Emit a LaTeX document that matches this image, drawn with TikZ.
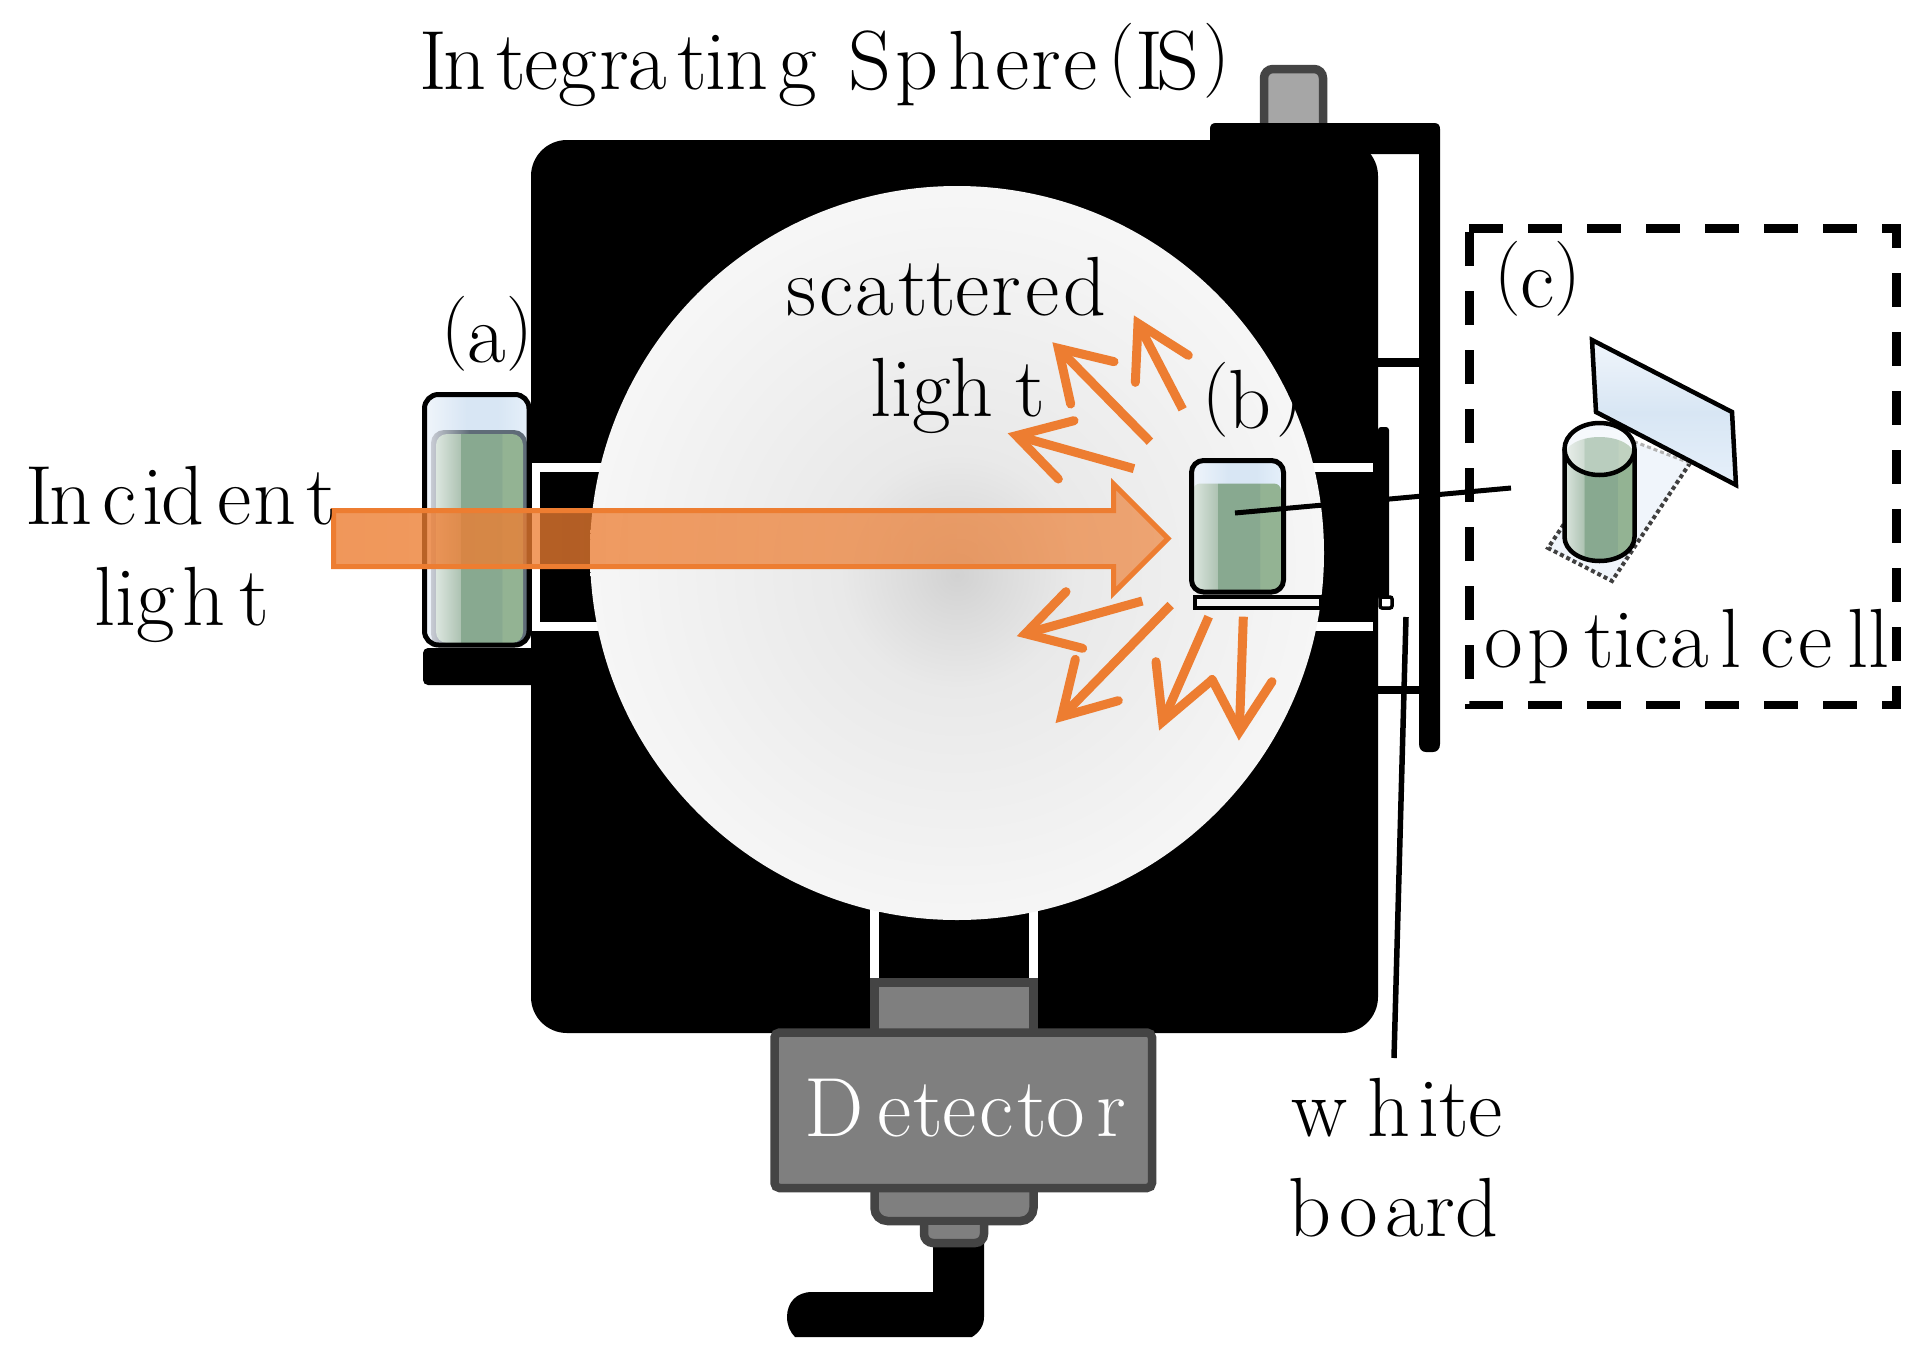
\documentclass[tikz,border=0pt]{standalone}
\usepackage{fontspec}
\usetikzlibrary{fadings}
\definecolor{orangeA}{HTML}{ED7D31}
\definecolor{detDark}{HTML}{444444}
\definecolor{detFill}{HTML}{7F7F7F}
\definecolor{liq0}{HTML}{DCE6DF}
\definecolor{liqA}{HTML}{AEC3B3}
\definecolor{liqB}{HTML}{88A990}
\definecolor{liqC}{HTML}{93B393}
\definecolor{glA}{HTML}{F0F5FB}
\definecolor{glB}{HTML}{D8E6F4}
\definecolor{glC}{HTML}{E6F0FA}
\definecolor{rimA}{HTML}{C8CCD4}
\definecolor{rimB}{HTML}{5F6C78}
\definecolor{sphA}{HTML}{D2D2D2}
\definecolor{sphB}{HTML}{E9E9E9}
\definecolor{sphC}{HTML}{F6F6F6}
\pgfdeclarehorizontalshading{liquid}{100bp}{
 color(0bp)=(liq0);
 color(25bp)=(liq0);
 color(38.9bp)=(liqA);color(39bp)=(liqB);color(62.9bp)=(liqB);color(63bp)=(liqC);color(75bp)=(liqC);color(100bp)=(liqC)}
\pgfdeclarehorizontalshading{glass}{100bp}{
 color(0bp)=(glA);color(25bp)=(glA);color(45bp)=(glB);color(60bp)=(glB);color(75bp)=(glC);color(100bp)=(glC)}
\pgfdeclarehorizontalshading{rimgray}{100bp}{
 color(0bp)=(rimA);color(25bp)=(rimA);color(45bp)=(rimB);color(75bp)=(rimB);color(100bp)=(rimB)}
\pgfdeclareverticalshading{plate}{100bp}{
 color(0bp)=(glC);color(25bp)=(glC);color(50bp)=(glB);color(75bp)=(glA);color(100bp)=(glA)}
\pgfdeclareradialshading{sphere}{\pgfpoint{0bp}{-1.5bp}}{
 color(0bp)=(sphA);color(3bp)=(sphA!60!sphB);color(8bp)=(sphB);color(25bp)=(sphC);color(50bp)=(sphC)}
\tikzfading[name=beamfade,left color=transparent!20,right color=transparent!35]
\tikzset{
 lbl/.style={anchor=base west,inner sep=0pt,font=\fontsize{84}{90}\selectfont},
 detbox/.style={draw=detDark,line width=8.5pt,fill=detFill,rounded corners=5pt},
 scat/.style={draw=orangeA,line width=9pt,line cap=round,line join=miter,miter limit=20},
 shaft/.style={draw=orangeA,line width=9pt},
 blackline/.style={draw=black,line width=5pt},
}
\newcommand\scatarrow[4]{%
 \draw[shaft] #1 -- #2;
 \draw[scat] #3 -- #2 -- #4;}
\newcommand\kk[1]{\kern#1pt\relax}
\newcommand\lp{{\fontsize{75}{80}\selectfont\raisebox{10pt}{(}}}
\newcommand\rp{{\fontsize{75}{80}\selectfont\raisebox{10pt}{)}}}
\begin{document}
\begin{tikzpicture}[x=1pt,y=-1pt]
\useasboundingbox (0,0) rectangle (1923,1363);
\fill[white] (0,0) rectangle (1923,1363);
% body
\fill[black,rounded corners=36pt] (531,140) rectangle (1378,1033);
% support bar
\fill[black] (1210,154) -- (1210,129) .. controls (1210,125) and (1212,123) .. (1216,123) -- (1434,123) .. controls (1438,123) and (1440,125) .. (1440,129) -- (1440,744) .. controls (1440,749) and (1437,752) .. (1433,752) -- (1426,752) .. controls (1422,752) and (1419,749) .. (1419,744) -- (1419,154) -- cycle;
\fill[black] (1378,358) rectangle (1420,367);
\fill[black] (1378,685.5) rectangle (1420,694);
\fill[black,rounded corners=3pt] (1378,427) -- (1389,427) -- (1389,600) -- (1378,600) -- cycle;
% knob
\draw[draw=detDark,line width=8.5pt,fill=black!35,rounded corners=9pt] (1264,127) -- (1264,69) -- (1323,69) -- (1323,127);
\fill[black] (1255,123) rectangle (1332,135);
% ports
\draw[white,line width=8.5pt] (640,467.5) -- (536,467.5) -- (536,626.5) -- (640,626.5);
\draw[white,line width=8.5pt] (1290,467.5) -- (1373,467.5);
\draw[white,line width=8.5pt] (1290,626.5) -- (1373,626.5);
\draw[white,line width=9pt] (874.5,880) -- (874.5,980);
\draw[white,line width=9pt] (1033.5,880) -- (1033.5,980);
% sphere
\shade[shading=sphere] (957,553) circle[radius=367pt];
% left cuvette
\shade[shading=glass,rounded corners=14pt] (425,395) rectangle (529,645);
\shade[shading=rimgray,rounded corners=13pt] (431,430) rectangle (527,647);
\shade[shading=liquid,rounded corners=11pt] (436,434) rectangle (523,643);
\draw[black,line width=5pt,rounded corners=14pt] (424.5,394.5) rectangle (529,645);
\fill[black,rounded corners=5pt] (423,648) -- (540,648) -- (540,685) -- (423,685) -- cycle;
% right cuvette
\draw[black,line width=4pt,fill=sphC] (1195,597) rectangle (1321,608);
\shade[shading=glass,rounded corners=12pt] (1191,460) rectangle (1284,592);
\shade[shading=liquid,rounded corners=7pt] (1193,483.5) rectangle (1281,590);
\draw[black,line width=5pt,rounded corners=12pt] (1191.5,460.5) rectangle (1283.5,592);
\draw[black,line width=3.5pt,fill=white,rounded corners=2pt] (1380,597) rectangle (1392,608);
% beam
\fill[orangeA,path fading=beamfade] (333.5,510.5) -- (1113.5,510.5) -- (1113.5,484) -- (1168,538.5) -- (1113.5,593) -- (1113.5,566.5) -- (333.5,566.5) -- cycle;
\draw[orangeA,line width=5pt,miter limit=10] (333.5,510.5) -- (1113.5,510.5) -- (1113.5,484) -- (1168,538.5) -- (1113.5,593) -- (1113.5,566.5) -- (333.5,566.5) -- cycle;
% scattered arrows
\begin{scope}[shift={(1000,280)},x=.33333pt,y=-.33333pt]
\scatarrow{(450,485)}{(175,205)}{(342,245)}{(212,372)}
\scatarrow{(548,388)}{(414,130)}{(565,226)}{(406,307)}
\scatarrow{(402,566)}{(49,467)}{(222,422)}{(175,597)}
\scatarrow{(427,963)}{(76,1061)}{(198,935)}{(248,1105)}
\scatarrow{(512,975)}{(185,1310)}{(226,1138)}{(355,1262)}
\scatarrow{(626,1010)}{(488,1325)}{(468,1145)}{(636,1200)}
\scatarrow{(730,1010)}{(718,1355)}{(636,1198)}{(816,1205)}
\end{scope}
% detector
\draw[detbox,rounded corners=0pt] (874.5,982.5) rectangle (1033.5,1040);
\draw[detbox,rounded corners=13pt] (874.5,1180) -- (874.5,1221) -- (1033.5,1221) -- (1033.5,1180);
\fill[detFill] (879,1180) rectangle (1029,1200);
\fill[black] (933,1235) -- (933,1292) -- (812,1292) .. controls (796,1292) and (787,1303) .. (787,1317) .. controls (787,1325) and (790,1332) .. (795,1337) -- (972,1337) .. controls (980,1332) and (984,1325) .. (984,1317) -- (984,1235) -- cycle;
\draw[detbox,rounded corners=9pt] (924,1225) -- (924,1243) -- (984,1243) -- (984,1225);
\fill[detFill] (930,1229) rectangle (978,1232);
\draw[detbox] (774.5,1032.5) rectangle (1152,1188);
\node[lbl,text=white] (detlabel) at (804,1136) {D\kk{14}e\kk{2}t\kk{-1}e\kk{3}c\kk{4}t\kk{-1}o\kk{12}r};
% optical cell
\fill[glA] (1548,548) -- (1612,581) -- (1690,463) -- (1622,437) -- cycle;
\draw[line width=4pt,black!75,dash pattern=on 4pt off 3pt] (1622,437) -- (1548,548) -- (1612,581) -- (1690,463);
\draw[line width=3pt,black!30,dash pattern=on 4pt off 3pt] (1690,463) -- (1622,437);
\shade[shading=plate] (1592,340) -- (1732,412) -- (1736,485) -- (1596,412) -- cycle;
\draw[black,line width=4.5pt,miter limit=20] (1592,340) -- (1732,412) -- (1736,485) -- (1596,412) -- cycle;
\shade[shading=liquid] (1564.5,449) -- (1564.5,537) arc[start angle=180,end angle=360,x radius=35pt,y radius=24pt] -- (1634.5,449) arc[start angle=0,end angle=180,x radius=35pt,y radius=26pt] -- cycle;
\fill[glA] (1599.5,449) ellipse[x radius=35pt,y radius=26pt];
\begin{scope}
\clip (1599.5,449) ellipse[x radius=35pt,y radius=26pt];
\shade[shading=liquid] (1564.5,456) arc[start angle=180,end angle=0,x radius=35pt,y radius=19pt] -- (1634.5,480) -- (1564.5,480) -- cycle;
\fill[white,opacity=.42] (1564.5,430) rectangle (1634.5,480);
\end{scope}
\draw[black,line width=4.5pt] (1564.5,449) -- (1564.5,537) arc[start angle=180,end angle=360,x radius=35pt,y radius=24pt] -- (1634.5,449);
\draw[black,line width=4.5pt] (1599.5,449) ellipse[x radius=35pt,y radius=26pt];
% dashed frame
\draw[black,line width=8.5pt,dash pattern=on 34pt off 25pt] (1469,228.5) -- (1896.5,228.5) -- (1896.5,705) -- (1469.5,705) -- (1469.5,228.5);
% leaders
\coordinate (bIn) at (1235,513);
\coordinate (cEnd) at (1511,488);
\coordinate (wbTop) at (1406,617);
\coordinate (wbEnd) at (1394,1058);
\draw[blackline] (bIn) -- (cEnd);
\draw[blackline,line width=5.5pt] (wbTop) -- (wbEnd);
% labels
\node[lbl] (title) at (419,89) {I\kk{-3}n\kk{10}t\kk{-2}eg\kk{2}ra\kk{10}t\kk{-2}i\kk{-1}n\kk{11}g\kk{6} S\kk{4}p\kk{10}h\kk{4}e\kk{2}r\kk{2}e\kk{11}\lp I\kk{-6}S\kk{4}\rp};
\node[lbl] (scatt) at (786,315) {s\kk{3}c\kk{2}a\kk{4}t\kk{-1}t\kk{-1}e\kk{2}r\kk{4}e\kk{4}d};
\node[lbl] (light2) at (870,416) {ligh\kk{22}t};
\node[lbl] (la) at (441,362) {\lp a\rp};
\node[lbl] (lb) at (1202,428) {\lp b\kk{5}\rp};
\node[lbl] (lc) at (1494,307) {\lp c\rp};
\node[lbl] (incident) at (25,524) {I\kk{-3}n\kk{10}c\kk{6}i\kk{-2}d\kk{13}e\kk{2}n\kk{10}t};
\node[lbl] (light1) at (94,625) {lig\kk{8}h\kk{14}t};
\node[lbl] (optcell) at (1484,667) {o\kk{5}p\kk{14}t\kk{-1}ic\kk{2}a\kk{11}l\kk{-6} c\kk{4}e\kk{15}ll};
\node[lbl] (whitew) at (1291,1136) {w\kk{20}h\kk{8}ite};
\node[lbl] (board) at (1288,1236) {b\kk{8}o\kk{8}a\kk{1}r\kk{1}d};
\end{tikzpicture}
\end{document}
